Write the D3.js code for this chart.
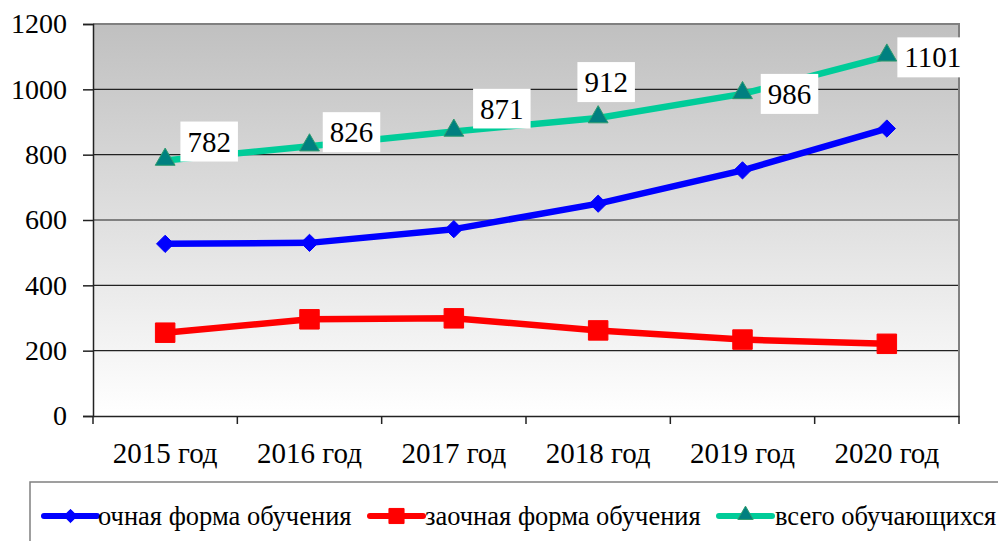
<!DOCTYPE html>
<html><head><meta charset="utf-8">
<script src="https://cdn.jsdelivr.net/npm/d3@7"></script>
<style>body{margin:0;background:#fff}svg{display:block}svg text{font-family:"Liberation Serif","Times New Roman",serif !important;}</style>
</head><body>
<svg id="c" width="998" height="541"></svg>
<script>
const categories = ["2015 год","2016 год","2017 год","2018 год","2019 год","2020 год"];
const fullTime = [527, 530, 572, 650, 752, 880];
const partTime = [255, 296, 299, 262, 234, 221];
const total = [782, 826, 871, 912, 986, 1101];
const yTicks = [0, 200, 400, 600, 800, 1000, 1200];
const seriesNames = ["очная форма обучения", "заочная форма обучения", "всего обучающихся"];
// label offsets (layout only)
const labelOffsets = [[44,-19],[42,-14],[48,-23],[8,-36],[47,0],[46,1]];

const svg = d3.select("#c");
const font = "Liberation Serif";
const L = 93, R = 959, T = 24, B = 416;
const x = d3.scaleBand().domain(categories).range([L, R]);
const y = d3.scaleLinear().domain([0, 1200]).range([B, T]);

const defs = svg.append("defs");
const g = defs.append("linearGradient").attr("id","bg").attr("x1",0).attr("y1",0).attr("x2",0).attr("y2",1);
g.append("stop").attr("offset","0%").attr("stop-color","#c0c0c0");
g.append("stop").attr("offset","100%").attr("stop-color","#ffffff");

svg.append("rect").attr("x",L).attr("y",T).attr("width",R-L).attr("height",B-T).attr("fill","url(#bg)");

// gridlines
svg.append("g").selectAll("line").data(yTicks.filter(d=>d>0 && d<1200)).join("line")
  .attr("x1",L).attr("x2",R).attr("y1",d=>y(d)).attr("y2",d=>y(d))
  .attr("stroke","#222").attr("stroke-width",1.2);

// border top/right
svg.append("path").attr("d",`M${L},${T}H${R}V${B}`).attr("fill","none").attr("stroke","#808080").attr("stroke-width",2);

// y axis
const yAxis = d3.axisLeft(y).tickValues(yTicks).tickSize(10).tickPadding(16).tickFormat(d3.format("d"));
const ya = svg.append("g").attr("transform",`translate(${L},0)`).call(yAxis).attr("font-family",font);
ya.select(".domain").attr("stroke","#222").attr("stroke-width",1.5);
ya.selectAll(".tick line").attr("stroke","#222").attr("stroke-width",1.5);
ya.selectAll("text").style("font-size","28px").attr("fill","#000");

// x axis
const xa = svg.append("g").attr("transform",`translate(0,${B})`)
  .call(d3.axisBottom(x).tickSize(0).tickPadding(26)).attr("font-family",font);
xa.select(".domain").attr("stroke","#222").attr("stroke-width",1.5);
xa.selectAll("text").style("font-size","29px").attr("fill","#000");
// tick marks at band boundaries
const bounds = categories.map(c=>x(c)).concat([R]);
svg.append("g").selectAll("line").data(bounds).join("line")
  .attr("x1",d=>d).attr("x2",d=>d).attr("y1",B).attr("y2",B+8)
  .attr("stroke","#222").attr("stroke-width",1.5);

const cx = c => x(c) + x.bandwidth()/2;
const line = vals => d3.line().x((d,i)=>cx(categories[i])).y(d=>y(d))(vals);

const series = [
  {vals: fullTime, color:"#0000ff", sym:d3.symbolDiamond2, size:190, fill:"#0000ff", stroke:"#0000ff"},
  {vals: partTime, color:"#ff0000", sym:d3.symbolSquare, size:380, fill:"#ff0000", stroke:"#ff0000"},
  {vals: total, color:"#00cc99", sym:d3.symbolTriangle, size:170, fill:"#008080", stroke:"#2e9b6e"}
];

series.forEach(s=>{
  svg.append("path").attr("d",line(s.vals)).attr("fill","none").attr("stroke",s.color).attr("stroke-width",6.5).attr("stroke-linejoin","round");
  svg.append("g").selectAll("path").data(s.vals).join("path")
    .attr("transform",(d,i)=>`translate(${cx(categories[i])},${y(d) + (s.sym===d3.symbolTriangle?-1:0)})`)
    .attr("d",d3.symbol().type(s.sym).size(s.size))
    .attr("fill",s.fill).attr("stroke",s.stroke).attr("stroke-width",1);
});

// data labels
const lbl = svg.append("g");
total.forEach((v,i)=>{
  const px = cx(categories[i]) + labelOffsets[i][0];
  const py = y(v) + labelOffsets[i][1];
  const t = lbl.append("text").attr("x",px).attr("y",py).attr("dy","0.35em")
    .attr("text-anchor","middle").style("font-size","29px").attr("fill","#000").text(v);
  const bb = t.node().getBBox();
  lbl.insert("rect","text").attr("x",px - bb.width/2 - 7).attr("y",py-20).attr("width",bb.width+14).attr("height",40).attr("fill","#fff");
});

// legend
svg.append("rect").attr("x",30).attr("y",482).attr("width",1000).attr("height",100)
  .attr("fill","#fff").attr("stroke","#808080").attr("stroke-width",1.5);
const legX = [[44,98],[370,425],[719,775]];
const legY = 516;
series.forEach((s,i)=>{
  const [lx, tx] = legX[i];
  svg.append("line").attr("x1",lx).attr("x2",lx+53).attr("y1",legY).attr("y2",legY)
    .attr("stroke",s.color).attr("stroke-width",6).attr("stroke-linecap","round");
  svg.append("path").attr("transform",`translate(${lx+26.5},${legY - (s.sym===d3.symbolTriangle?1:0)})`)
    .attr("d",d3.symbol().type(s.sym).size(s.size*0.6)).attr("fill",s.fill).attr("stroke",s.stroke);
  svg.append("text").attr("x",tx).attr("y",legY).attr("dy","0.35em")
    .style("font-size","26.5px").attr("fill","#000").text(seriesNames[i]);
});
</script>
</body></html>
